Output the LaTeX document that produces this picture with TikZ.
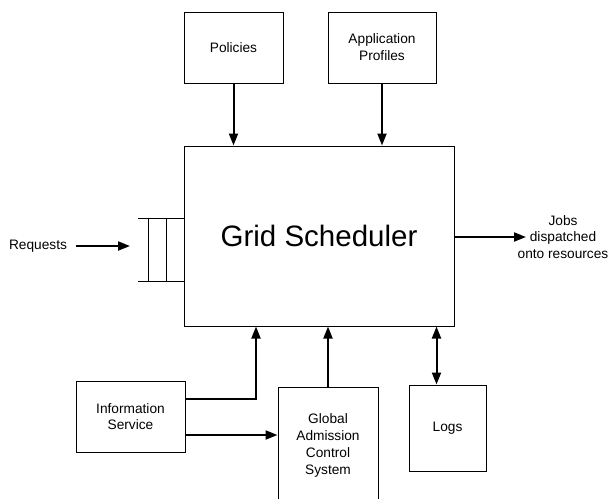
\documentclass[tikz,border=0pt]{standalone}
\usepackage{fontspec}
\setmainfont{Liberation Sans}
\usetikzlibrary{arrows.meta}
\begin{document}
\begin{tikzpicture}[x=1pt,y=-1pt,
  box/.style={draw=black,line width=1pt,rectangle,inner sep=0pt,align=center,
    font=\fontsize{13.7}{16.8}\selectfont},
  lbl/.style={inner sep=0pt,align=center,font=\fontsize{13.7}{16.8}\selectfont},
  arr/.style={line width=2pt,-{Triangle[length=12pt,width=9pt]}},
  darr/.style={line width=2pt,{Triangle[length=12pt,width=9pt]}-{Triangle[length=12pt,width=9pt]}},
  thin/.style={line width=1pt}]
\useasboundingbox (0,0) rectangle (609,498);
\clip (0,0) rectangle (609,498);
\node[box,minimum width=99pt,minimum height=71pt] (pol) at (233.5,47.5) {Policies};
\node[box,minimum width=108pt,minimum height=71pt] (app) at (382,47.5) {Application\\Profiles};
\node[box,minimum width=270pt,minimum height=180pt,font=\fontsize{29.5}{34}\selectfont] (main) at (319,236) {Grid Scheduler};
\node[box,minimum width=109pt,minimum height=71pt] (info) at (130.5,416.5) {Information\\Service};
\node[box,minimum width=100pt,minimum height=114pt,text depth=0pt] (gacs) at (328,444) {Global\\Admission\\Control\\System};
\node[box,minimum width=77pt,minimum height=86pt] (logs) at (447.5,428) {Logs};
\node[lbl] (req) at (38,246) {Requests};
\node[lbl] (jobs) at (563,237) {Jobs\\dispatched\\onto resources};
\coordinate (qin) at (130,246);
\coordinate (jobsin) at (526,237);
% queue
\coordinate (qtl) at (138,218);
\coordinate (qbl) at (138,281);
\draw[thin] (qtl) -- (qtl -| main.west);
\draw[thin] (qbl) -- (qbl -| main.west);
\draw[thin] (148,218) -- (148,281);
\draw[thin] (166,218) -- (166,281);
% connectors
\draw[arr] (pol.south) -- (pol.south |- main.north);
\draw[arr] (app.south) -- (app.south |- main.north);
\draw[arr] ([xshift=-9pt]req.east) ++(18,0) -- (qin);
\draw[arr] (main.east |- jobsin) -- (jobsin);
\draw[arr] ([yshift=17.5pt]info.east) -| ([xshift=-63pt]main.south);
\draw[arr] ([yshift=-18.5pt]info.east) -- ([yshift=-18.5pt]info.east -| gacs.west);
\draw[arr] (gacs.north) -- (gacs.north |- main.south);
\draw[darr] ([xshift=-18pt]main.south east) -- ([xshift=-18pt]main.south east |- logs.north);
\end{tikzpicture}
\end{document}
